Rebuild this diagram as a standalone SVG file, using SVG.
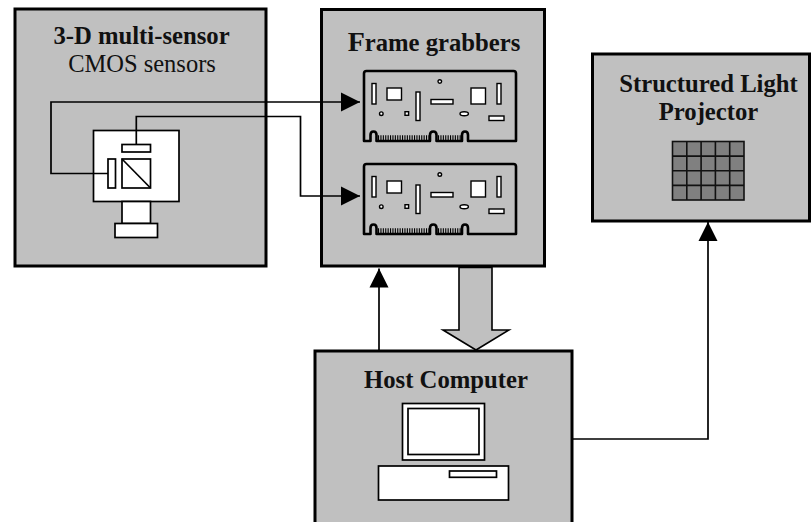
<svg xmlns="http://www.w3.org/2000/svg" xmlns:xlink="http://www.w3.org/1999/xlink" width="812" height="522" viewBox="0 0 812 522">
  <style>
    .box { fill: #c0c0c0; stroke: #000; stroke-width: 3; }
    .part { fill: #fff; stroke: #000; stroke-width: 1.7; }
    .chip { fill: #fff; stroke: #000; stroke-width: 1.4; }
    .card { fill: none; stroke: #000; stroke-width: 2.6; stroke-linejoin: round; }
    .wire { fill: none; stroke: #000; stroke-width: 1.7; }
    .title { font-family: "Liberation Serif", "Times New Roman", serif; font-size: 24.7px; font-weight: bold; fill: #111; text-anchor: middle; }
    .sub { font-family: "Liberation Serif", "Times New Roman", serif; font-size: 24.5px; fill: #111; text-anchor: middle; }
    .grid { fill: #808080; stroke: #111; stroke-width: 1.6; }
    .fingers { stroke: #000; stroke-width: 5.5; stroke-dasharray: 1.1 1.3; }
  </style>
  <defs>
    <marker id="head" markerUnits="userSpaceOnUse" markerWidth="20" markerHeight="20" refX="19" refY="9.5" orient="auto" viewBox="0 0 20 19">
      <path d="M0,0 L19,9.5 L0,19 z" fill="#000"/>
    </marker>
    <!-- frame grabber board, drawn at its upper slot -->
    <g id="board">
      <path class="card" d="M364,141 V73.5 Q364,71 366.5,71 H513.5 Q516,71 516,73.5 V141 H468 V135 Q468,131.5 465,131.5 Q462,131.5 462,135 V141 H436.5 V135 Q436.5,131.5 433.3,131.5 Q430,131.5 430,135 V141 H376.5 V135 Q376.5,131.5 373.5,131.5 Q370.5,131.5 370.5,135 V141 Z"/>
      <line class="fingers" x1="378" y1="138" x2="429" y2="138"/>
      <line class="fingers" x1="438" y1="138" x2="461" y2="138"/>
      <rect class="chip" x="372" y="83.5" width="4" height="20.5"/>
      <rect class="chip" x="387" y="88" width="14.5" height="12"/>
      <circle class="chip" cx="381.3" cy="113.7" r="1.8"/>
      <rect class="chip" x="405" y="111.7" width="3.6" height="3.6"/>
      <rect class="chip" x="416" y="92" width="4" height="28.5"/>
      <rect class="chip" x="431" y="99.5" width="22" height="4.5"/>
      <circle class="chip" cx="439.8" cy="81.5" r="1.8"/>
      <rect class="chip" x="471" y="88" width="14.5" height="16"/>
      <rect class="chip" x="497" y="83.5" width="4" height="20.5"/>
      <ellipse class="chip" cx="464.2" cy="113.8" rx="4.2" ry="2"/>
      <rect class="chip" x="489" y="116" width="15" height="4.5"/>
    </g>
  </defs>

  <!-- 3-D multi-sensor head -->
  <g id="sensor">
    <rect class="box" x="15" y="9" width="251" height="257"/>
    <text class="title" x="141.5" y="44.3">3-D multi-sensor</text>
    <text class="sub" x="142" y="71.7">CMOS sensors</text>
    <rect class="part" x="93.5" y="130.5" width="85.5" height="71"/>
    <rect class="part" x="122" y="144.5" width="28.5" height="7.5"/>
    <rect class="part" x="108" y="159" width="7.5" height="29"/>
    <rect class="part" x="122" y="159" width="28.5" height="29"/>
    <line x1="122" y1="159" x2="150.5" y2="188" stroke="#000" stroke-width="1.7"/>
    <rect class="part" x="122" y="201.5" width="28.5" height="22"/>
    <rect class="part" x="115" y="223.5" width="42.5" height="14"/>
  </g>

  <!-- frame grabbers with two boards -->
  <g id="grabbers">
    <rect class="box" x="321.5" y="9.5" width="223" height="256.5"/>
    <text class="title" x="434" y="50.7"><tspan font-size="28px">F</tspan>rame grabbers</text>
    <use xlink:href="#board"/>
    <use xlink:href="#board" transform="translate(0,93)"/>
  </g>

  <!-- structured light projector -->
  <g id="projector">
    <rect class="box" x="592.5" y="54" width="217" height="167"/>
    <text class="title" x="708.5" y="91.7">Structured Light</text>
    <text class="title" x="708.5" y="120">Projector</text>
    <rect class="grid" x="672.5" y="141.5" width="71.5" height="58.5"/>
    <path d="M686.8,141.5 V200 M701.1,141.5 V200 M715.4,141.5 V200 M729.7,141.5 V200 M672.5,156.1 H744 M672.5,170.75 H744 M672.5,185.4 H744" stroke="#111" stroke-width="1.6" fill="none"/>
  </g>

  <!-- host computer -->
  <g id="host">
    <rect class="box" x="315" y="351" width="257" height="190"/>
    <text class="title" x="446" y="387.7">Host Computer</text>
    <rect class="part" x="402.5" y="403.5" width="82" height="56.5"/>
    <rect class="part" x="408" y="408.5" width="71" height="46"/>
    <rect class="part" x="378.5" y="466" width="130" height="34"/>
    <rect class="part" x="449.5" y="471" width="47" height="6.3"/>
  </g>

  <!-- connectors -->
  <g id="connectors">
    <path class="wire" d="M108,173.5 H51 V102 H360" marker-end="url(#head)"/>
    <path class="wire" d="M136.3,144.5 V116.5 H300.5 V196 H360" marker-end="url(#head)"/>
    <path class="wire" d="M379,351 V268.5" marker-end="url(#head)"/>
    <path class="wire" d="M572,439 H708 V222" marker-end="url(#head)"/>
    <polygon points="459,267.5 492,267.5 492,330 509,330 476,350 443,330 459,330" fill="#c0c0c0" stroke="#000" stroke-width="1.6" stroke-linejoin="miter"/>
  </g>
</svg>
